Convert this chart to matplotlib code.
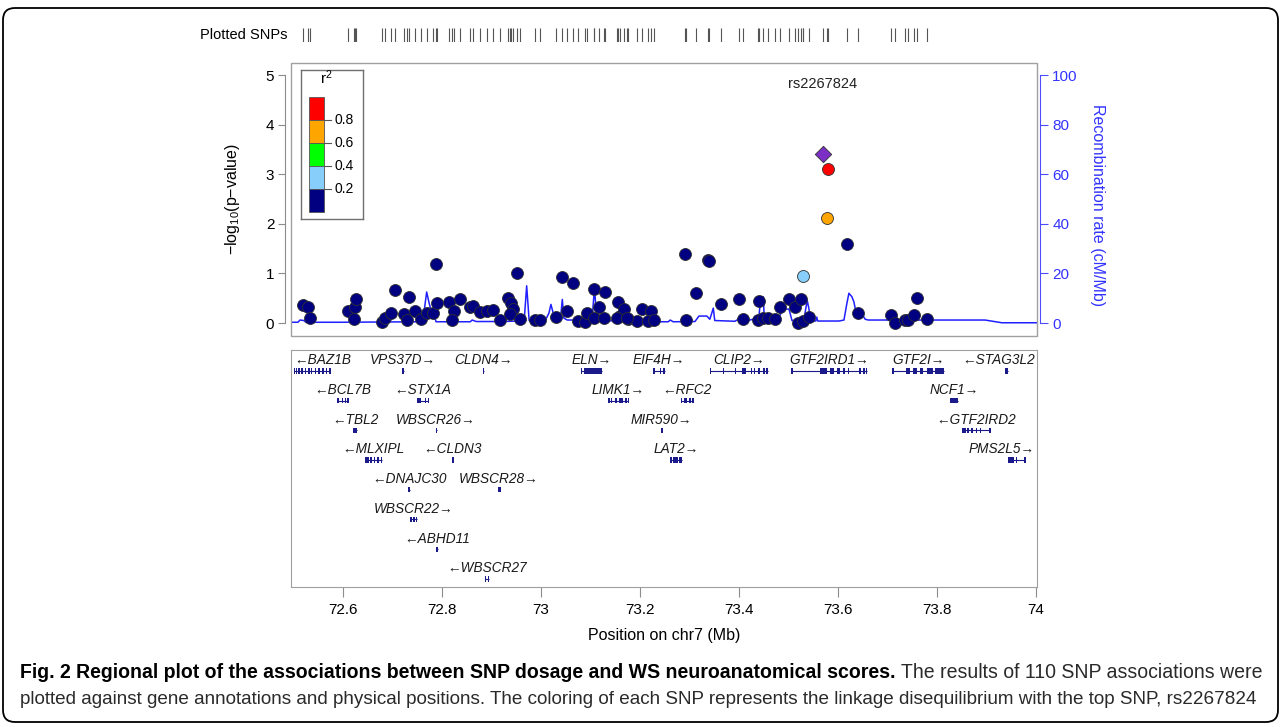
import matplotlib
matplotlib.use('Agg')
import matplotlib.pyplot as plt
from matplotlib.patches import Rectangle, FancyBboxPatch
from matplotlib.transforms import IdentityTransform
from matplotlib import font_manager

W, H = 1281, 727
plt.rcParams['font.family'] = ['Liberation Sans', 'DejaVu Sans']
plt.rcParams['mathtext.fontset'] = 'custom'
plt.rcParams['mathtext.rm'] = 'Liberation Sans'
plt.rcParams['mathtext.it'] = 'Liberation Sans:italic'

# ---------------- data ----------------
lead_snp = 'rs2267824'
snp_pos = [72.520, 72.530, 72.533, 72.611, 72.624, 72.626, 72.622, 72.678, 72.685, 72.697,
           72.704, 72.723, 72.729, 72.734, 72.745, 72.758, 72.769, 72.782, 72.788, 72.789,
           72.815, 72.824, 72.820, 72.836, 72.857, 72.863, 72.877, 72.890, 72.902, 72.917,
           72.934, 72.939, 72.943, 72.937, 72.951, 72.958, 72.988, 72.998, 73.030, 73.043,
           73.053, 73.065, 73.075, 73.089, 73.092, 73.108, 73.108, 73.118, 73.127, 73.129,
           73.156, 73.160, 73.168, 73.153, 73.176, 73.193, 73.203, 73.222, 73.217, 73.228,
           73.291, 73.293, 73.313, 73.337, 73.363, 73.399, 73.409, 73.441, 73.439, 73.449,
           73.459, 73.473, 73.483, 73.501, 73.513, 73.525, 73.519, 73.530, 73.541, 73.529,
           73.569, 73.579, 73.578, 73.618, 73.640, 73.707, 73.715, 73.735, 73.741, 73.754,
           73.759, 73.779, 73.339, 73.173]
snp_logp = [0.36, 0.33, 0.11, 0.25, 0.33, 0.48, 0.08, 0.03, 0.11, 0.21,
            0.67, 0.18, 0.07, 0.52, 0.24, 0.08, 0.20, 0.20, 1.19, 0.41,
            0.42, 0.25, 0.06, 0.48, 0.33, 0.34, 0.23, 0.25, 0.26, 0.07,
            0.50, 0.40, 0.28, 0.18, 1.00, 0.09, 0.07, 0.07, 0.13, 0.93,
            0.24, 0.80, 0.05, 0.03, 0.21, 0.68, 0.11, 0.33, 0.11, 0.63,
            0.42, 0.14, 0.29, 0.11, 0.09, 0.04, 0.28, 0.25, 0.05, 0.07,
            1.39, 0.07, 0.60, 1.27, 0.38, 0.49, 0.08, 0.45, 0.06, 0.11,
            0.11, 0.08, 0.33, 0.49, 0.33, 0.48, 0.01, 0.04, 0.12, 0.95,
            3.40, 3.11, 2.12, 1.59, 0.21, 0.16, 0.00, 0.06, 0.07, 0.16,
            0.51, 0.08, 1.25, 0.11]
snp_r2 = [0.05, 0.05, 0.05, 0.05, 0.05, 0.05, 0.05, 0.05, 0.05, 0.05,
          0.05, 0.05, 0.05, 0.05, 0.05, 0.05, 0.05, 0.05, 0.05, 0.05,
          0.05, 0.05, 0.05, 0.05, 0.05, 0.05, 0.05, 0.05, 0.05, 0.05,
          0.05, 0.05, 0.05, 0.05, 0.05, 0.05, 0.05, 0.05, 0.05, 0.05,
          0.05, 0.05, 0.05, 0.05, 0.05, 0.05, 0.05, 0.05, 0.05, 0.05,
          0.05, 0.05, 0.05, 0.05, 0.05, 0.05, 0.05, 0.05, 0.05, 0.05,
          0.05, 0.05, 0.05, 0.05, 0.05, 0.05, 0.05, 0.05, 0.05, 0.05,
          0.05, 0.05, 0.05, 0.05, 0.05, 0.05, 0.05, 0.05, 0.05, 0.30,
          1.00, 0.90, 0.70, 0.10, 0.05, 0.05, 0.05, 0.05, 0.05, 0.05,
          0.05, 0.05, 0.05, 0.05]
lead_index = 80

recomb_pos = [72.495, 72.509, 72.513, 72.521, 72.525, 72.594, 72.756, 72.762, 72.769, 72.774,
              72.778, 72.782, 72.788, 72.857, 72.861, 72.869, 72.917, 72.958, 72.966, 72.971,
              72.976, 73.008, 73.016, 73.020, 73.026, 73.034, 73.040, 73.043, 73.046, 73.053,
              73.103, 73.108, 73.111, 73.115, 73.119, 73.160, 73.200, 73.240, 73.257, 73.261,
              73.267, 73.311, 73.319, 73.335, 73.341, 73.345, 73.348, 73.351, 73.392, 73.398,
              73.406, 73.410, 73.440, 73.444, 73.449, 73.451, 73.481, 73.489, 73.501, 73.507,
              73.531, 73.535, 73.538, 73.541, 73.545, 73.555, 73.557, 73.559, 73.602, 73.612,
              73.618, 73.622, 73.628, 73.632, 73.636, 73.646, 73.655, 73.661, 73.897, 73.931,
              74.005]
recomb_rate = [0.3, 0.3, 1.2, 1.0, 0.3, 0.3, 0.5, 2.0, 12.5, 8.0,
               5.0, 4.5, 0.5, 0.5, 1.2, 0.6, 0.6, 0.8, 1.0, 15.0,
               1.0, 0.8, 4.0, 7.5, 3.0, 2.0, 3.0, 9.5, 2.0, 1.2,
               1.2, 14.0, 6.0, 5.0, 1.0, 0.8, 1.0, 0.5, 0.5, 1.2,
               0.5, 0.6, 2.8, 2.8, 1.5, 4.0, 6.0, 1.0, 0.7, 1.5,
               1.5, 0.7, 2.0, 10.6, 10.6, 2.0, 2.5, 5.6, 5.6, 1.0,
               1.0, 6.0, 8.9, 6.0, 0.8, 0.8, 2.4, 0.8, 0.8, 1.2,
               8.0, 12.0, 10.6, 8.6, 4.6, 4.3, 1.5, 1.2, 1.2, 0.1,
               0.1]

gene_names = ['BAZ1B', 'VPS37D', 'CLDN4', 'ELN', 'EIF4H', 'CLIP2', 'GTF2IRD1', 'GTF2I', 'STAG3L2',
              'BCL7B', 'STX1A', 'LIMK1', 'RFC2', 'NCF1',
              'TBL2', 'WBSCR26', 'MIR590', 'GTF2IRD2',
              'MLXIPL', 'CLDN3', 'LAT2', 'PMS2L5',
              'DNAJC30', 'WBSCR28', 'WBSCR22', 'ABHD11', 'WBSCR27']
gene_start = [72.500, 72.719, 72.882, 73.081, 73.227, 73.341, 73.506, 73.710, 73.938,
              72.587, 72.750, 73.136, 73.283, 73.826,
              72.620, 72.787, 73.243, 73.850,
              72.644, 72.821, 73.261, 73.944,
              72.732, 72.914, 72.735, 72.788, 72.887]
gene_end = [72.574, 72.723, 72.884, 73.123, 73.250, 73.459, 73.658, 73.814, 73.943,
            72.611, 72.772, 73.176, 73.308, 73.843,
            72.629, 72.789, 73.245, 73.907,
            72.678, 72.823, 73.284, 73.978,
            72.735, 72.917, 72.749, 72.791, 72.894]
gene_strand = ['-', '+', '+', '+', '+', '+', '+', '+', '-',
               '-', '-', '+', '-', '+',
               '-', '+', '+', '-',
               '-', '-', '+', '+',
               '-', '+', '+', '-', '-']
gene_row = [0, 0, 0, 0, 0, 0, 0, 0, 0,
            1, 1, 1, 1, 1,
            2, 2, 2, 2,
            3, 3, 3, 3,
            4, 4, 5, 6, 7]
gene_exons = [
    [(72.500, 72.502), (72.505, 72.507), (72.509, 72.513), (72.516, 72.517), (72.523, 72.525),
     (72.530, 72.531), (72.535, 72.537), (72.543, 72.544), (72.550, 72.551), (72.558, 72.559),
     (72.565, 72.566), (72.572, 72.574)],
    [(72.719, 72.723)],
    [(72.882, 72.884)],
    [(73.081, 73.083), (73.087, 73.123)],
    [(73.227, 73.229), (73.240, 73.243), (73.246, 73.250)],
    [(73.341, 73.342), (73.367, 73.369), (73.391, 73.393), (73.407, 73.415), (73.424, 73.427),
     (73.430, 73.433), (73.439, 73.441), (73.448, 73.452), (73.455, 73.459)],
    [(73.506, 73.507), (73.563, 73.577), (73.583, 73.591), (73.597, 73.604), (73.611, 73.614),
     (73.620, 73.622), (73.643, 73.645), (73.651, 73.653), (73.656, 73.658)],
    [(73.710, 73.711), (73.737, 73.745), (73.752, 73.759), (73.765, 73.772), (73.780, 73.792),
     (73.795, 73.814)],
    [(73.938, 73.943)],
    [(72.587, 72.592), (72.597, 72.599), (72.603, 72.605), (72.609, 72.611)],
    [(72.750, 72.757), (72.765, 72.767), (72.771, 72.772)],
    [(73.136, 73.137), (73.141, 73.142), (73.150, 73.152), (73.157, 73.165), (73.170, 73.172),
     (73.175, 73.176)],
    [(73.283, 73.285), (73.288, 73.295), (73.299, 73.303), (73.306, 73.308)],
    [(73.826, 73.843)],
    [(72.620, 72.629)],
    [(72.787, 72.789)],
    [(73.243, 73.245)],
    [(73.850, 73.858), (73.860, 73.865), (73.869, 73.871), (73.878, 73.879), (73.886, 73.887),
     (73.906, 73.907)],
    [(72.644, 72.652), (72.655, 72.657), (72.662, 72.664), (72.669, 72.671), (72.676, 72.678)],
    [(72.821, 72.823)],
    [(73.261, 73.263), (73.266, 73.276), (73.279, 73.281), (73.283, 73.284)],
    [(73.944, 73.946), (73.948, 73.956), (73.959, 73.961), (73.976, 73.978)],
    [(72.732, 72.735)],
    [(72.914, 72.915), (72.916, 72.917)],
    [(72.735, 72.739), (72.741, 72.745), (72.747, 72.749)],
    [(72.788, 72.791)],
    [(72.887, 72.889), (72.892, 72.894)],
]

r2_breaks = [0.0, 0.2, 0.4, 0.6, 0.8, 1.0]
r2_colors = ['#000080', '#87CEFA', '#00FF00', '#FFA500', '#FF0000']
r2_tick_labels = ['0.2', '0.4', '0.6', '0.8']
lead_color = '#7B2FC4'
x_ticks = [72.6, 72.8, 73.0, 73.2, 73.4, 73.6, 73.8, 74.0]
x_tick_labels = ['72.6', '72.8', '73', '73.2', '73.4', '73.6', '73.8', '74']
xlim = (72.4949, 74.0020)

caption_bold = 'Fig. 2 Regional plot of the associations between SNP dosage and WS neuroanatomical scores.'
caption_rest1 = ' The results of 110 SNP associations were'
caption_line2 = ('plotted against gene annotations and physical positions. The coloring of each SNP '
                 'represents the linkage disequilibrium with the top SNP, rs2267824')


def fx(x):
    return x / W


def fy(y):
    return 1 - y / H


def r2_color(v):
    for i in range(len(r2_colors)):
        if v < r2_breaks[i + 1] or i == len(r2_colors) - 1:
            return r2_colors[i]


fig = plt.figure(figsize=(W / 100, H / 100), dpi=100)
fig.patch.set_facecolor('white')

GRAY = '#8c8c8c'
BLUE_AX = '#4d4dff'

# ---------------- upper association panel ----------------
ax = fig.add_axes([fx(291), fy(336), (1037 - 291) / W, (336 - 63) / H])
ax2 = ax.twinx()
ax.set_zorder(ax2.get_zorder() + 1)
ax.patch.set_visible(False)

ax.set_xlim(*xlim)
ax.set_ylim(-0.262, 5.242)
ax2.set_ylim(-0.262 * 20, 5.242 * 20)

ax2.plot(recomb_pos, recomb_rate, color='#1f1fff', lw=1.1, zorder=1)

order = sorted(range(len(snp_pos)), key=lambda i: snp_r2[i])
for i in order:
    if i == lead_index:
        continue
    ax.scatter(snp_pos[i], snp_logp[i], s=74, color=r2_color(snp_r2[i]),
               edgecolor='#303030', linewidth=0.6, zorder=3)
ax.scatter(snp_pos[lead_index], snp_logp[lead_index], s=70, marker='D', color=lead_color,
           edgecolor='#303030', linewidth=0.6, zorder=4)
ax.text(snp_pos[lead_index], 4.82, lead_snp, ha='center', va='center', fontsize=10.5, color='#222222')

for sp in ax.spines.values():
    sp.set_visible(False)
ax.add_patch(Rectangle((0, 0), 1, 1, transform=ax.transAxes, fill=False, ec='#a0a0a0', lw=1.0,
                       clip_on=False, zorder=10))
ax.spines['left'].set_visible(True)
ax.spines['left'].set_position(('outward', 4))
ax.spines['left'].set_bounds(0, 5)
ax.spines['left'].set_color(GRAY)
ax.set_yticks([0, 1, 2, 3, 4, 5])
ax.tick_params(axis='y', direction='out', length=5, color=GRAY, labelsize=11, pad=3)
ax.set_xticks([])
ax.text(-0.079, 0.50, '\u2212log$_{10}$(p\u2212value)', transform=ax.transAxes, rotation=90,
        ha='center', va='center', fontsize=11.5)

for sp in ax2.spines.values():
    sp.set_visible(False)
ax2.spines['right'].set_visible(True)
ax2.spines['right'].set_position(('outward', 2))
ax2.spines['right'].set_bounds(0, 100)
ax2.spines['right'].set_color(BLUE_AX)
ax2.set_yticks([0, 20, 40, 60, 80, 100])
ax2.tick_params(axis='y', direction='out', length=6, color=BLUE_AX, labelcolor='#3333ff',
                labelsize=11, pad=3)
ax2.text(1.081, 0.48, 'Recombination rate (cM/Mb)', transform=ax2.transAxes, rotation=270,
         ha='center', va='center', fontsize=11.5, color='#3333ff')

# legend (r^2 colour key)
lg = fig.add_axes([fx(300.7), fy(219.3), 62 / W, 149.3 / H])
lg.set_xlim(0, 62)
lg.set_ylim(149.3, 0)
lg.set_xticks([])
lg.set_yticks([])
for sp in lg.spines.values():
    sp.set_color('#707070')
    sp.set_linewidth(1.0)
block_h = 23.0
top_bar = 26.7
n = len(r2_colors)
for k in range(n):
    c = r2_colors[n - 1 - k]
    lg.add_patch(Rectangle((8.6, top_bar + k * block_h), 15, block_h, fc=c, ec='#555555', lw=0.6))
for k, lab in enumerate(reversed(r2_tick_labels)):
    yb = top_bar + (k + 1) * block_h
    lg.plot([23.6, 30], [yb, yb], color='#555555', lw=0.8)
    lg.text(33.5, yb, lab, va='center', ha='left', fontsize=10)
lg.text(26, 8, 'r$^2$', ha='center', va='center', fontsize=11)

# ---------------- plotted SNPs strip ----------------
st = fig.add_axes([fx(291), fy(42), (1037 - 291) / W, 14 / H])
st.set_xlim(*xlim)
st.set_ylim(0, 1)
st.axis('off')
st.vlines(snp_pos, 0, 1, color='#555555', lw=0.8)
fig.text(fx(287), fy(35), 'Plotted SNPs', ha='right', va='center', fontsize=10.5)

# ---------------- gene panel ----------------
gax = fig.add_axes([fx(291), fy(587), (1037 - 291) / W, (587 - 350) / H])
gax.set_xlim(*xlim)
gax.set_ylim(7.273, -0.707)
gax.set_yticks([])
gax.set_xticks(x_ticks)
gax.set_xticklabels(x_tick_labels)
gax.tick_params(axis='x', direction='out', length=7.5, color=GRAY, labelsize=11, pad=4)
for sp in gax.spines.values():
    sp.set_color('#a0a0a0')
gax.set_xlabel('Position on chr7 (Mb)', fontsize=11.5)
gax.xaxis.set_label_coords(0.5, -0.175)

GENE_COL = '#1a1a8a'
labels = []
for name, s, e, strand, row, exons in zip(gene_names, gene_start, gene_end, gene_strand,
                                          gene_row, gene_exons):
    gax.plot([s, e], [row, row], color=GENE_COL, lw=0.8, solid_capstyle='butt')
    for (a, b) in exons:
        w = max(b - a, 0.0028)
        gax.add_patch(Rectangle((a, row - 0.09), w, 0.18, fc=GENE_COL, ec='none'))
    txt = ('\u2190' + name) if strand == '-' else (name + '\u2192')
    t = gax.text((s + e) / 2, row - 0.36, txt, ha='center', va='center', fontsize=9.8,
                 fontstyle='italic', color='#1a1a1a')
    labels.append(t)

# keep gene labels inside the panel
fig.canvas.draw()
rend = fig.canvas.get_renderer()
gbb = gax.get_window_extent(rend)
inv = gax.transData.inverted()
for t in labels:
    bb = t.get_window_extent(rend)
    shift = 0
    if bb.x0 < gbb.x0 + 3:
        shift = gbb.x0 + 3 - bb.x0
    elif bb.x1 > gbb.x1 - 2:
        shift = gbb.x1 - 2 - bb.x1
    if shift:
        x, y = t.get_position()
        px, py = gax.transData.transform((x, y))
        nx, _ = inv.transform((px + shift, py))
        t.set_x(nx)

# ---------------- caption ----------------
cap_family = ['Liberation Sans']
try:
    font_manager.findfont('Liberation Sans Narrow', fallback_to_default=False)
    cap_family = ['Liberation Sans Narrow', 'Liberation Sans']
except Exception:
    pass

L, R = 20, 1262
t2 = fig.text(fx(L), fy(700), caption_line2, ha='left', va='center', fontsize=13,
              family=cap_family, color='#2a2a2a')
fig.canvas.draw()
w2 = t2.get_window_extent(rend).width
t2.set_fontsize(13 * (R - L) / w2)

tb = fig.text(fx(L), fy(672), caption_bold, ha='left', va='center', fontsize=13,
              family=cap_family, fontweight='bold', color='black')
tr = fig.text(fx(L), fy(672), caption_rest1, ha='left', va='center', fontsize=13,
              family=cap_family, color='#2a2a2a')
fig.canvas.draw()
wb = tb.get_window_extent(rend).width
wr = tr.get_window_extent(rend).width
fs1 = 13 * (R - L) / (wb + wr)
tb.set_fontsize(fs1)
tr.set_fontsize(fs1)
fig.canvas.draw()
wb = tb.get_window_extent(rend).width
tr.set_x(fx(L + wb))

# rounded outer frame
frame = FancyBboxPatch((3, 5), 1275, 714, boxstyle='round,pad=0,rounding_size=12',
                       transform=IdentityTransform(), fill=False, ec='black', lw=1.3)
fig.add_artist(frame)

fig.savefig('out.png', dpi=100)
